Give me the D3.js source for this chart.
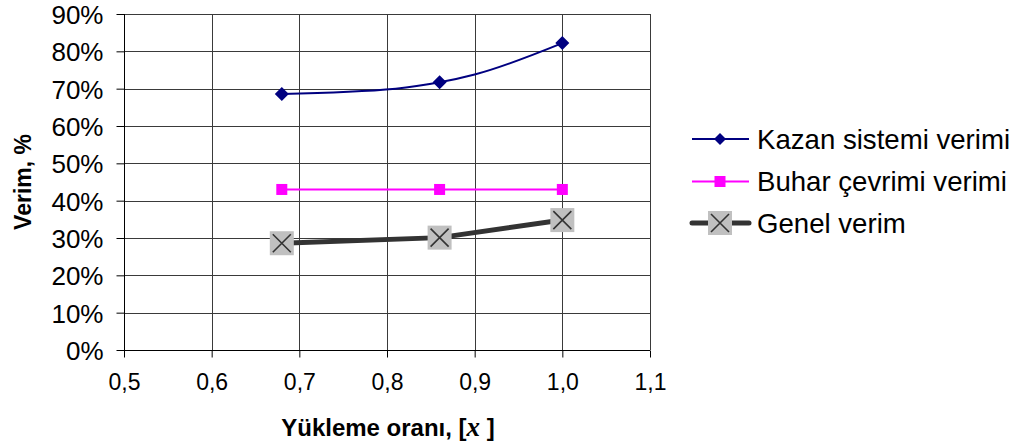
<!DOCTYPE html>
<html>
<head>
<meta charset="utf-8">
<script src="https://cdn.jsdelivr.net/npm/d3@7"></script>
<style>
  html, body { margin: 0; padding: 0; background: #fff; }
  svg { display: block; font-family: "Liberation Sans", Arial, sans-serif; }
</style>
</head>
<body>
<svg id="chart" width="1019" height="448"></svg>
<script>
// Load ratio (x) and efficiency values (%)
const loadRatios = [0.68, 0.86, 1.0];
const boilerEff = [68.6, 71.7, 82.2];          // Kazan sistemi verimi (marked points)
const boilerPathX = [0.68, 0.81, 0.86, 0.9, 1.0]; // line path of the boiler series
const boilerPathY = [68.6, 70.0, 71.7, 73.8, 82.2];
const steamEff = [43, 43, 43];                 // Buhar çevrimi verimi
const overallEff = [28.6, 30.1, 34.8];         // Genel verim
const xTicks = [0.5, 0.6, 0.7, 0.8, 0.9, 1.0, 1.1];
const yTicks = [0, 10, 20, 30, 40, 50, 60, 70, 80, 90];
const seriesNames = ["Kazan sistemi verimi", "Buhar çevrimi verimi", "Genel verim"];

const svg = d3.select("#chart");
const m = { left: 124, right: 650, top: 14, bottom: 350 };

const x = d3.scaleLinear().domain([0.5, 1.1]).range([m.left, m.right]);
const y = d3.scaleLinear().domain([0, 90]).range([m.bottom, m.top]);

// gridlines
svg.append("g").selectAll("line.h").data(yTicks.slice(1)).join("line")
  .attr("x1", m.left).attr("x2", m.right)
  .attr("y1", d => Math.round(y(d)) + 0.5).attr("y2", d => Math.round(y(d)) + 0.5)
  .attr("stroke", "#3a3a3a").attr("stroke-width", 1);
svg.append("g").selectAll("line.v").data(xTicks.slice(1)).join("line")
  .attr("y1", m.top).attr("y2", m.bottom)
  .attr("x1", d => Math.round(x(d)) + 0.5).attr("x2", d => Math.round(x(d)) + 0.5)
  .attr("stroke", "#3a3a3a").attr("stroke-width", 1);

// axes
const yAxis = svg.append("g")
  .attr("transform", `translate(${m.left + 0.5},0)`)
  .call(d3.axisLeft(y).tickValues(yTicks).tickFormat(d => d + "%").tickSize(8).tickPadding(13));
const xAxis = svg.append("g")
  .attr("transform", `translate(0,${m.bottom + 0.5})`)
  .call(d3.axisBottom(x).tickValues(xTicks).tickFormat(d => d3.format(".1f")(d).replace(".", ",")).tickSize(7).tickPadding(16));
[yAxis, xAxis].forEach(a => {
  a.select(".domain").attr("stroke", "#000").attr("stroke-width", 1);
  a.selectAll(".tick line").attr("stroke", "#000");
  a.selectAll("text").attr("fill", "#000").attr("font-family", "Liberation Sans, Arial, sans-serif");
});
yAxis.selectAll("text").attr("font-size", 26).attr("dy", "0.36em");
xAxis.selectAll("text").attr("font-size", 23);
xAxis.select(".domain").attr("d", `M${m.left},0H${m.right}`);
yAxis.select(".domain").attr("d", `M0,${m.bottom}V${m.top}`);

// axis titles
svg.append("text")
  .attr("transform", `translate(31,${(m.top + m.bottom) / 2}) rotate(-90)`)
  .attr("text-anchor", "middle").attr("font-size", 23).attr("font-weight", "bold")
  .text("Verim, %");
const xt = svg.append("text")
  .attr("x", 388).attr("y", 436).attr("text-anchor", "middle")
  .attr("font-size", 24).attr("font-weight", "bold");
xt.append("tspan").text("Yükleme oranı, [");
xt.append("tspan").attr("font-family", "Liberation Serif, Times New Roman, serif")
  .attr("font-style", "italic").attr("font-size", 27).text("x");
xt.append("tspan").text(" ]");

// series
const line = d3.line().x(d => x(d[0])).y(d => y(d[1]));
const boilerPts = boilerPathX.map((v, i) => [v, boilerPathY[i]]);
svg.append("path").datum(boilerPts)
  .attr("d", line.curve(d3.curveMonotoneX)).attr("fill", "none")
  .attr("stroke", "#000080").attr("stroke-width", 2);

const steamPts = loadRatios.map((v, i) => [v, steamEff[i]]);
svg.append("path").datum(steamPts)
  .attr("d", d3.line().x(d => x(d[0])).y(d => y(d[1]))).attr("fill", "none")
  .attr("stroke", "#ff00ff").attr("stroke-width", 2);

const overallPts = loadRatios.map((v, i) => [v, overallEff[i]]);
svg.append("path").datum(overallPts)
  .attr("d", d3.line().x(d => x(d[0])).y(d => y(d[1]))).attr("fill", "none")
  .attr("stroke", "#333333").attr("stroke-width", 5);

// markers
function diamond(g, cx, cy, r) {
  g.append("path").attr("d", `M${cx},${cy - r}L${cx + r},${cy}L${cx},${cy + r}L${cx - r},${cy}Z`)
    .attr("fill", "#000080");
}
function square(g, cx, cy) {
  g.append("rect").attr("x", cx - 5.5).attr("y", cy - 5.5).attr("width", 11).attr("height", 11)
    .attr("fill", "#ff00ff");
}
function crossBox(g, cx, cy) {
  g.append("rect").attr("x", cx - 12).attr("y", cy - 12).attr("width", 24).attr("height", 24)
    .attr("fill", "#c0c0c0");
  g.append("path").attr("d", `M${cx - 9},${cy - 9}L${cx + 9},${cy + 9}M${cx + 9},${cy - 9}L${cx - 9},${cy + 9}`)
    .attr("stroke", "#333").attr("stroke-width", 1.6);
}
const mk = svg.append("g");
loadRatios.forEach((v, i) => diamond(mk, x(v), y(boilerEff[i]), 7));
loadRatios.forEach((v, i) => square(mk, x(v), y(steamEff[i])));
loadRatios.forEach((v, i) => crossBox(mk, x(v), y(overallEff[i])));

// legend
const leg = svg.append("g");
const rows = [139, 181.5, 223];
const lx0 = 692, lx1 = 749, lm = 720;
leg.append("line").attr("x1", lx0).attr("x2", lx1).attr("y1", rows[0]).attr("y2", rows[0])
  .attr("stroke", "#000080").attr("stroke-width", 2);
diamond(leg, lm, rows[0], 6);
leg.append("line").attr("x1", lx0).attr("x2", lx1).attr("y1", rows[1]).attr("y2", rows[1])
  .attr("stroke", "#ff00ff").attr("stroke-width", 2);
square(leg, lm, rows[1]);
leg.append("line").attr("x1", lx0).attr("x2", lx1).attr("y1", rows[2]).attr("y2", rows[2])
  .attr("stroke", "#333333").attr("stroke-width", 5).attr("stroke-linecap", "round");
crossBox(leg, lm, rows[2]);
seriesNames.forEach((s, i) => {
  leg.append("text").attr("x", 757).attr("y", rows[i]).attr("dy", "0.36em")
    .attr("font-size", 27.6).attr("fill", "#000").text(s);
});
</script>
</body>
</html>
